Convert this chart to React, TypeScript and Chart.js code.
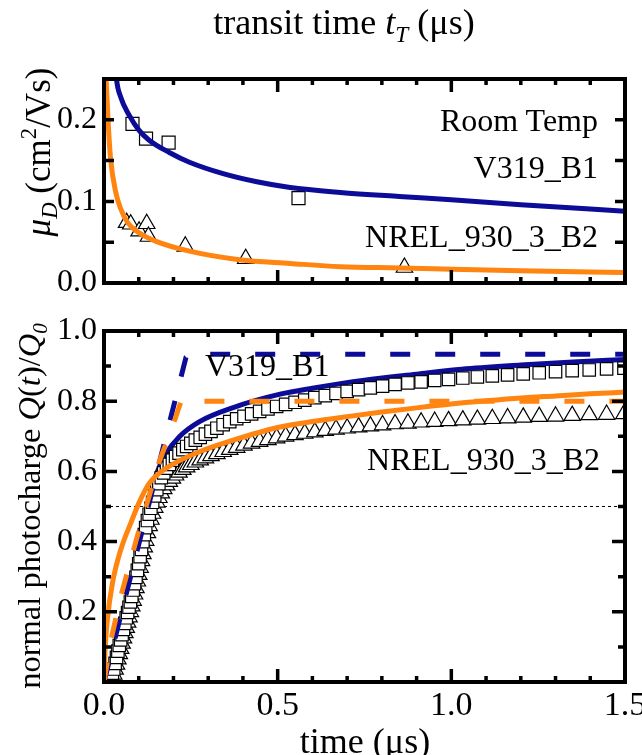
import React, { useEffect, useRef } from 'react';
import { Chart, registerables } from 'chart.js';

Chart.register(...registerables);

type Pt = [number, number];

const FONT = '"Liberation Serif", "Times New Roman", serif';
const BLUE = '#0c0c98';
const ORANGE = '#ff8410';

// ---------- axes / tick values ----------
const X_MIN = 0;
const X_MAX = 1.5;
const X_LABEL_TICKS = [0, 0.5, 1.0, 1.5];
const X_MAJOR_MARKS = [0.5, 1.0];
const X_MINOR_MARKS = [0.1, 0.2, 0.3, 0.4, 0.6, 0.7, 0.8, 0.9, 1.1, 1.2, 1.3, 1.4];

const TOP_Y_MIN = 0;
const TOP_Y_MAX = 0.25;
const TOP_Y_TICKS = [0, 0.1, 0.2];
const TOP_Y_MARKS = [0.05, 0.1, 0.15, 0.2];

const BOT_Y_MIN = 0;
const BOT_Y_MAX = 1.0;
const BOT_Y_TICKS = [0.2, 0.4, 0.6, 0.8, 1.0];
const BOT_Y_MAJOR = [0.2, 0.4, 0.6, 0.8];
const BOT_Y_MINOR = [0.1, 0.3, 0.5, 0.7, 0.9];

// ---------- top panel: mobility vs transit time ----------
const TOP_V319_FIT: Pt[] = [
  [0.034, 0.262], [0.036, 0.25], [0.048, 0.228], [0.072, 0.206], [0.101, 0.187],
  [0.13, 0.175], [0.188, 0.16], [0.246, 0.148], [0.343, 0.134], [0.44, 0.124],
  [0.536, 0.117], [0.68, 0.111], [0.85, 0.106], [1.0, 0.102], [1.2, 0.096], [1.5, 0.088],
];
const TOP_NREL_FIT: Pt[] = [
  [0.004, 0.265], [0.006, 0.25], [0.0125, 0.193], [0.019, 0.152], [0.034, 0.111],
  [0.048, 0.091], [0.068, 0.074], [0.101, 0.0615], [0.15, 0.051], [0.246, 0.039],
  [0.39, 0.0285], [0.536, 0.024], [0.68, 0.02], [0.85, 0.0185], [1.0, 0.017],
  [1.2, 0.015], [1.5, 0.013],
];
const TOP_V319_MEAS: Pt[] = [[0.082, 0.195], [0.121, 0.177], [0.186, 0.172], [0.56, 0.104]];
const TOP_NREL_MEAS: Pt[] = [
  [0.065, 0.074], [0.077, 0.072], [0.101, 0.0635], [0.123, 0.0726], [0.128, 0.057],
  [0.234, 0.045], [0.408, 0.0297], [0.865, 0.019],
];

// ---------- bottom panel: normalised photocharge vs time ----------
const BOT_V319_FIT: Pt[] = [
  [0.012, 0.0], [0.03, 0.065], [0.05, 0.145], [0.075, 0.245], [0.1, 0.35], [0.115, 0.43],
  [0.13, 0.51], [0.15, 0.59], [0.179, 0.651], [0.217, 0.699], [0.275, 0.742],
  [0.372, 0.782], [0.507, 0.82], [0.6, 0.837], [0.75, 0.86], [0.9, 0.877],
  [1.03, 0.891], [1.2, 0.903], [1.35, 0.912], [1.5, 0.919],
];
const BOT_NREL_FIT: Pt[] = [
  [0.0, 0.0], [0.003, 0.09], [0.01, 0.18], [0.024, 0.28], [0.048, 0.376], [0.08, 0.46],
  [0.1, 0.509], [0.13, 0.566], [0.179, 0.609], [0.275, 0.656], [0.372, 0.689],
  [0.5, 0.725], [0.6, 0.742], [0.7, 0.756], [0.8, 0.769], [0.9, 0.781], [1.0, 0.792],
  [1.1, 0.801], [1.2, 0.809], [1.3, 0.815], [1.4, 0.821], [1.5, 0.826],
];
const BOT_V319_MODEL: Pt[] = [[0.0, 0.0], [0.236, 0.925], [0.245, 0.932], [0.26, 0.934], [1.5, 0.934]];
const BOT_NREL_MODEL: Pt[] = [
  [0.0, 0.0], [0.02, 0.12], [0.05, 0.25], [0.1, 0.43], [0.16, 0.63], [0.205, 0.75],
  [0.222, 0.8], [1.5, 0.8],
];
const HALF_LINE: Pt[] = [[0, 0.5], [1.5, 0.5]];

const BOT_V319_MEAS: Pt[] = [
  [0.016, 0.0], [0.02, 0.01], [0.024, 0.025], [0.028, 0.037], [0.032, 0.053], [0.036, 0.07],
  [0.04, 0.088], [0.044, 0.104], [0.048, 0.12], [0.052, 0.135], [0.056, 0.15], [0.06, 0.167],
  [0.064, 0.183], [0.068, 0.198], [0.072, 0.213], [0.076, 0.228], [0.08, 0.244], [0.084, 0.262],
  [0.088, 0.28], [0.092, 0.298], [0.096, 0.318], [0.1, 0.337], [0.104, 0.357], [0.108, 0.378],
  [0.112, 0.4], [0.116, 0.42], [0.12, 0.44], [0.125, 0.46], [0.13, 0.478], [0.135, 0.495],
  [0.14, 0.512], [0.146, 0.53], [0.152, 0.548], [0.158, 0.565], [0.165, 0.582], [0.172, 0.596],
  [0.18, 0.609], [0.188, 0.62], [0.197, 0.632], [0.206, 0.642], [0.216, 0.652], [0.227, 0.662],
  [0.238, 0.671], [0.25, 0.68], [0.263, 0.689], [0.277, 0.697], [0.292, 0.706], [0.308, 0.714],
  [0.325, 0.723], [0.343, 0.733], [0.362, 0.742], [0.382, 0.75], [0.403, 0.757], [0.425, 0.764],
  [0.448, 0.771], [0.472, 0.778], [0.497, 0.785], [0.523, 0.791], [0.55, 0.797], [0.578, 0.803],
  [0.607, 0.81], [0.637, 0.816], [0.668, 0.822], [0.7, 0.828], [0.733, 0.833], [0.767, 0.838],
  [0.802, 0.843], [0.838, 0.848], [0.875, 0.852], [0.913, 0.855], [0.952, 0.859], [0.992, 0.862],
  [1.033, 0.866], [1.075, 0.869], [1.118, 0.872], [1.162, 0.875], [1.207, 0.878], [1.253, 0.881],
  [1.3, 0.884], [1.348, 0.887], [1.397, 0.889], [1.447, 0.892], [1.497, 0.894],
];
const BOT_NREL_MEAS: Pt[] = [
  [0.02, 0.0], [0.024, 0.01], [0.028, 0.022], [0.032, 0.036], [0.036, 0.05], [0.04, 0.065],
  [0.044, 0.08], [0.048, 0.095], [0.052, 0.11], [0.056, 0.125], [0.06, 0.14], [0.064, 0.155],
  [0.068, 0.17], [0.072, 0.185], [0.076, 0.2], [0.08, 0.216], [0.084, 0.232], [0.088, 0.25],
  [0.092, 0.268], [0.096, 0.287], [0.1, 0.306], [0.104, 0.326], [0.108, 0.345], [0.112, 0.365],
  [0.116, 0.384], [0.12, 0.403], [0.125, 0.425], [0.13, 0.445], [0.135, 0.463], [0.14, 0.48],
  [0.146, 0.497], [0.152, 0.512], [0.158, 0.525], [0.165, 0.538], [0.172, 0.55], [0.18, 0.561],
  [0.188, 0.571], [0.197, 0.58], [0.206, 0.589], [0.216, 0.597], [0.227, 0.605], [0.238, 0.612],
  [0.25, 0.619], [0.263, 0.626], [0.277, 0.632], [0.292, 0.638], [0.308, 0.644], [0.325, 0.65],
  [0.343, 0.656], [0.362, 0.662], [0.382, 0.668], [0.403, 0.674], [0.425, 0.68], [0.448, 0.685],
  [0.472, 0.69], [0.497, 0.695], [0.523, 0.7], [0.55, 0.704], [0.578, 0.708], [0.607, 0.712],
  [0.637, 0.716], [0.668, 0.72], [0.7, 0.723], [0.733, 0.726], [0.767, 0.729], [0.802, 0.732],
  [0.838, 0.735], [0.875, 0.737], [0.913, 0.74], [0.952, 0.742], [0.992, 0.744], [1.033, 0.746],
  [1.075, 0.748], [1.118, 0.75], [1.162, 0.752], [1.207, 0.754], [1.253, 0.756], [1.3, 0.757],
  [1.348, 0.759], [1.397, 0.761], [1.447, 0.762], [1.497, 0.764],
];

const xy = (pts: Pt[]) => pts.map(([x, y]) => ({ x, y }));

// frame + inward ticks, positioned through the chart's own scales
const frameTicks = {
  id: 'frameTicks',
  afterDraw(chart: any, _args: any, o: any) {
    const { ctx, chartArea: a, scales } = chart;
    const xs = scales.x;
    const ys = scales.y;
    ctx.save();
    ctx.strokeStyle = '#000';
    ctx.lineCap = 'butt';
    ctx.lineWidth = 3.5;
    ctx.beginPath();
    const xGroups: [number[], number][] = [[o.xMajor, o.xMajorLen], [o.xMinor, o.xMinorLen]];
    for (const [vals, len] of xGroups) {
      for (const v of vals) {
        const px = xs.getPixelForValue(v);
        ctx.moveTo(px, a.bottom);
        ctx.lineTo(px, a.bottom - len);
        ctx.moveTo(px, a.top);
        ctx.lineTo(px, a.top + len);
      }
    }
    const yGroups: [number[], number][] = [[o.yMajor, o.yMajorLen], [o.yMinor, o.yMinorLen]];
    for (const [vals, len] of yGroups) {
      for (const v of vals) {
        const py = ys.getPixelForValue(v);
        ctx.moveTo(a.left, py);
        ctx.lineTo(a.left + len, py);
        ctx.moveTo(a.right, py);
        ctx.lineTo(a.right - len, py);
      }
    }
    ctx.stroke();
    ctx.lineWidth = 4;
    ctx.strokeRect(a.left, a.top, a.right - a.left, a.bottom - a.top);
    ctx.restore();
  },
};

const yTickFont = { family: FONT, size: 32 };
const xTickFont = { family: FONT, size: 34 };

function yScale(min: number, max: number, ticks: number[]) {
  return {
    type: 'linear',
    position: 'left',
    min,
    max,
    grid: { display: false, drawTicks: false },
    border: { display: false },
    ticks: {
      font: yTickFont,
      color: '#000',
      padding: 7,
      callback: (v: any) => Number(v).toFixed(1),
    },
    afterBuildTicks: (s: any) => {
      s.ticks = ticks.map((v) => ({ value: v }));
    },
    afterFit: (s: any) => {
      s.width = 104;
      s.paddingTop = 0;
      s.paddingBottom = 0;
    },
  };
}

const lineDs = (pts: Pt[], color: string, order: number, extra: any = {}) => ({
  data: xy(pts),
  showLine: true,
  borderColor: color,
  backgroundColor: color,
  borderWidth: 5,
  pointRadius: 0,
  cubicInterpolationMode: 'monotone',
  clip: 0,
  order,
  ...extra,
});

const markerDs = (pts: Pt[], style: string, radius: number, order: number) => ({
  data: xy(pts),
  showLine: false,
  pointStyle: style,
  pointRadius: radius,
  pointBorderWidth: 1.2,
  pointBorderColor: '#000',
  pointBackgroundColor: '#fff',
  borderColor: '#000',
  backgroundColor: '#fff',
  clip: 0,
  order,
});

const baseOptions = {
  responsive: false,
  animation: false,
  devicePixelRatio: 1,
  events: [],
};

const straight = { cubicInterpolationMode: 'default', tension: 0 };

export default function App() {
  const topRef = useRef<HTMLCanvasElement | null>(null);
  const botRef = useRef<HTMLCanvasElement | null>(null);

  useEffect(() => {
    const top = new Chart(topRef.current as HTMLCanvasElement, {
      type: 'scatter',
      data: {
        datasets: [
          lineDs(TOP_NREL_FIT, ORANGE, 0),
          lineDs(TOP_V319_FIT, BLUE, 1),
          markerDs(TOP_V319_MEAS, 'rect', 9.2, 2),
          markerDs(TOP_NREL_MEAS, 'triangle', 9.5, 3),
        ] as any,
      },
      options: {
        ...baseOptions,
        layout: { padding: { left: 0, top: 79, right: 17, bottom: 17 } },
        plugins: {
          legend: { display: false },
          tooltip: { enabled: false },
          frameTicks: {
            xMajor: X_MAJOR_MARKS, xMajorLen: 13,
            xMinor: X_MINOR_MARKS, xMinorLen: 6,
            yMajor: TOP_Y_MARKS, yMajorLen: 10,
            yMinor: [], yMinorLen: 0,
          },
        } as any,
        scales: {
          x: { type: 'linear', min: X_MIN, max: X_MAX, display: false },
          y: yScale(TOP_Y_MIN, TOP_Y_MAX, TOP_Y_TICKS),
        } as any,
      } as any,
      plugins: [frameTicks],
    });

    const bot = new Chart(botRef.current as HTMLCanvasElement, {
      type: 'scatter',
      data: {
        datasets: [
          lineDs(BOT_NREL_FIT, ORANGE, 0),
          lineDs(BOT_NREL_MODEL, ORANGE, 1, { borderDash: [20, 25], ...straight }),
          lineDs(BOT_V319_MODEL, BLUE, 2, { borderDash: [20, 25], ...straight }),
          markerDs(BOT_V319_MEAS, 'rect', 8.8, 3),
          markerDs(BOT_NREL_MEAS, 'triangle', 9.5, 4),
          lineDs(BOT_V319_FIT, BLUE, 5),
          lineDs(HALF_LINE, '#000', 6, { borderWidth: 1, borderDash: [3, 3], ...straight }),
        ] as any,
      },
      options: {
        ...baseOptions,
        layout: { padding: { left: 0, top: 31, right: 17, bottom: 0 } },
        plugins: {
          legend: { display: false },
          tooltip: { enabled: false },
          frameTicks: {
            xMajor: X_MAJOR_MARKS, xMajorLen: 13,
            xMinor: X_MINOR_MARKS, xMinorLen: 6,
            yMajor: BOT_Y_MAJOR, yMajorLen: 13,
            yMinor: BOT_Y_MINOR, yMinorLen: 7,
          },
        } as any,
        scales: {
          x: {
            type: 'linear',
            position: 'bottom',
            min: X_MIN,
            max: X_MAX,
            grid: { display: false, drawTicks: false },
            border: { display: false },
            ticks: {
              font: xTickFont,
              color: '#000',
              padding: 4,
              maxRotation: 0,
              autoSkip: false,
              callback: (v: any) => Number(v).toFixed(1),
            },
            afterBuildTicks: (s: any) => {
              s.ticks = X_LABEL_TICKS.map((v) => ({ value: v }));
            },
            afterFit: (s: any) => {
              s.height = 73;
              s.paddingLeft = 0;
              s.paddingRight = 0;
            },
          },
          y: yScale(BOT_Y_MIN, BOT_Y_MAX, BOT_Y_TICKS),
        } as any,
      } as any,
      plugins: [frameTicks],
    });

    return () => {
      top.destroy();
      bot.destroy();
    };
  }, []);

  const txt: React.CSSProperties = {
    position: 'absolute',
    fontFamily: FONT,
    fontSize: 32,
    lineHeight: 1,
    whiteSpace: 'nowrap',
    color: '#000',
  };
  const subStyle: React.CSSProperties = { fontSize: '0.65em', verticalAlign: '-0.35em', lineHeight: 0 };
  const supStyle: React.CSSProperties = { fontSize: '0.65em', verticalAlign: '0.6em', lineHeight: 0 };

  return (
    <div style={{ position: 'absolute', left: 0, top: 0, width: 642, height: 755, background: '#fff' }}>
      <canvas ref={topRef} width={642} height={300} style={{ position: 'absolute', left: 0, top: 0 }} />
      <canvas ref={botRef} width={642} height={455} style={{ position: 'absolute', left: 0, top: 300 }} />

      <div style={{ ...txt, fontSize: 36, left: 344, top: 22, transform: 'translate(-50%, -50%)' }}>
        transit time <i>t</i><span style={subStyle}><i>T</i></span> (μs)
      </div>

      <div style={{ ...txt, fontSize: 35, left: 38, top: 152, transform: 'translate(-50%, -50%) rotate(-90deg)' }}>
        <i>μ</i><span style={subStyle}><i>D</i></span> (cm<span style={supStyle}>2</span>/Vs)
      </div>

      <div style={{ ...txt, fontSize: 32.5, left: 29, top: 506, transform: 'translate(-50%, -50%) rotate(-90deg)' }}>
        normal photocharge <i>Q</i>(<i>t</i>)/<i>Q</i><span style={subStyle}><i>0</i></span>
      </div>

      <div style={{ ...txt, fontSize: 36, left: 365, top: 741, transform: 'translate(-50%, -50%)' }}>time (μs)</div>

      <div style={{ ...txt, right: 642 - 598, top: 120, transform: 'translateY(-50%)' }}>Room Temp</div>
      <div style={{ ...txt, right: 642 - 598, top: 167, transform: 'translateY(-50%)' }}>V319_B1</div>
      <div style={{ ...txt, right: 642 - 598, top: 236, transform: 'translateY(-50%)' }}>NREL_930_3_B2</div>

      <div style={{ ...txt, left: 205, top: 365, transform: 'translateY(-50%)' }}>V319_B1</div>
      <div style={{ ...txt, right: 642 - 600, top: 459, transform: 'translateY(-50%)' }}>NREL_930_3_B2</div>
    </div>
  );
}
